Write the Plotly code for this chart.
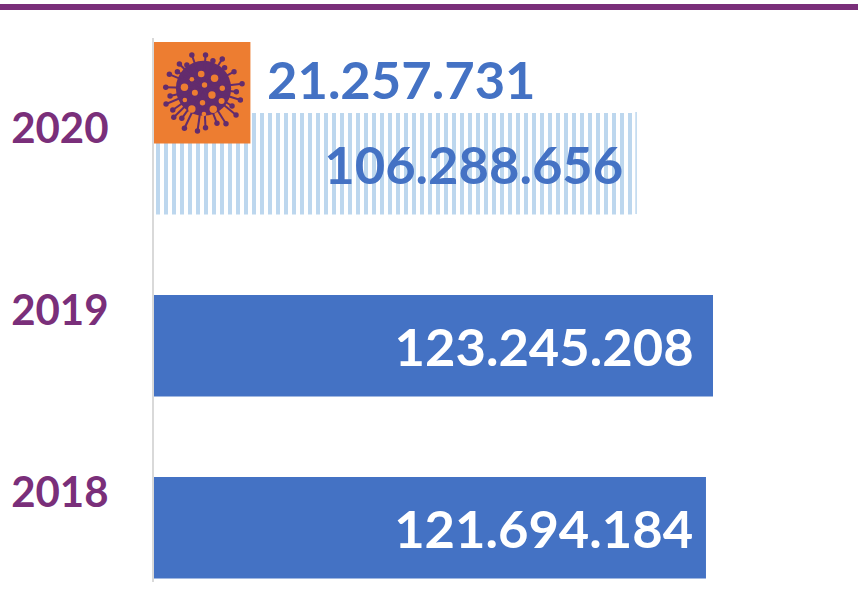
import base64
import plotly.graph_objects as go

categories = ["2018", "2019", "2020"]
values_total = [121694184, 123245208, 106288656]
values_covid = [None, None, 21257731]
label_pad = ["\u2009\u200a", "\u2009\u2009\u200a", "\u2009\u200a"]


def fmt(v):
    return f"{v:,}".replace(",", ".")


# Decorative virus icon, drawn in its own 96x102 picture
holes = [(183,132,10),(155,148,7),(223,145,11),(193,165,8),(133,172,11),(246,175,8),(164,188,9),
         (215,195,11),(134,210,7),(244,213,9),(187,218,8),(155,237,11),(219,238,11),(191,252,7)]
spikes = [(155,75),(196,75),(246,87),(281,125),(305,161),(300,210),(287,255),(257,281),(196,293),
          (172,303),(133,295),(101,262),(78,222),(77,172),(88,133),(118,102),(218,92),(253,113),
          (288,185),(275,228),(230,280),(140,105),(112,125),(90,198),(98,240),(125,265)]
VIRUS = "#632C6D"
def px(z): return z / 3 - 14
def py(z): return z / 3 - 11
parts = [f'<svg xmlns="http://www.w3.org/2000/svg" width="96" height="102" viewBox="0 0 96 102">',
         f'<circle cx="{px(190):.1f}" cy="{py(175):.1f}" r="27.5" fill="{VIRUS}"/>']
for sx, sy in spikes:
    parts.append(f'<line x1="{px(190):.1f}" y1="{py(175):.1f}" x2="{px(sx):.1f}" y2="{py(sy):.1f}" stroke="{VIRUS}" stroke-width="2"/>')
    parts.append(f'<circle cx="{px(sx):.1f}" cy="{py(sy):.1f}" r="2.7" fill="{VIRUS}"/>')
for hx, hy, r in holes:
    parts.append(f'<circle cx="{px(hx):.1f}" cy="{py(hy):.1f}" r="{r/3:.1f}" fill="#ED7D31"/>')
parts.append("</svg>")
icon = "data:image/svg+xml;base64," + base64.b64encode("".join(parts).encode()).decode()

BLUE = "#4472C4"
PURPLE = "#7A2F7A"
FONT = "Lato"
W, H = 858, 609
L, T, PB = 154, 38, 582
PH = PB - T
BW = 101.5 / 182

fig = go.Figure()
fig.add_trace(go.Bar(
    y=categories, x=values_total, orientation="h", width=BW, offset=-0.475,
    marker=dict(
        color=[BLUE, BLUE, "#BDD7EE"],
        line_width=0,
        pattern=dict(shape=["", "", "|"], size=8, solidity=0.5,
                     fgcolor=[BLUE, BLUE, "#BDD7EE"],
                     bgcolor=[BLUE, BLUE, "#FFFFFF"], fillmode="replace"),
    ),
    text=[fmt(v) + p for v, p in zip(values_total, label_pad)],
    textposition="inside", insidetextanchor="end", constraintext="none", textangle=0,
    insidetextfont=dict(family=FONT, size=52.5, color=["#FFFFFF", "#FFFFFF", BLUE], weight="bold"),
    cliponaxis=False,
))
fig.add_trace(go.Bar(
    y=categories, x=values_covid, orientation="h", width=BW, offset=-0.085,
    marker=dict(color="#ED7D31", line_width=0),
    cliponaxis=False,
))

fig.update_layout(
    width=W, height=H, barmode="overlay", showlegend=False,
    margin=dict(l=L, r=0, t=T, b=H - PB, pad=0),
    paper_bgcolor="white", plot_bgcolor="white",
    xaxis=dict(range=[0, (W - L) / 559 * values_total[1]], visible=False),
    yaxis=dict(
        type="category", categoryorder="array", categoryarray=categories,
        range=[-0.494, 2.495], showgrid=False, zeroline=False,
        showline=True, linecolor="#D9D9D9", linewidth=2, ticks="",
        ticklabelstandoff=35,
        tickfont=dict(family=FONT, size=42, color=PURPLE, weight="bold"),
    ),
    annotations=[dict(x=values_covid[2], y=categories.index("2020"), xref="x", yref="y",
                      text=fmt(values_covid[2]),
                      xanchor="left", yanchor="middle", xshift=15, yshift=50, showarrow=False,
                      font=dict(family=FONT, size=52.5, color=BLUE, weight="bold"))],
    shapes=[dict(type="rect", xref="paper", yref="paper", x0=-L / (W - L), x1=1,
                 y0=1 + (T - 10) / PH, y1=1 + (T - 4) / PH,
                 fillcolor=PURPLE, line_width=0),
            dict(type="line", xref="x", yref="paper", x0=values_total[2], x1=values_total[2],
                 y0=(PB - 214) / PH, y1=(PB - 112) / PH,
                 line=dict(color="#BDD7EE", width=1.5))],
    images=[dict(source=icon, xref="x", yref="paper", x=0, sizex=values_covid[2],
                 y=(PB - 41) / PH, sizey=102 / PH, sizing="stretch",
                 xanchor="left", yanchor="top", layer="above")],
)
fig.write_html("out.html", config={"displayModeBar": False},
               post_script="document.body.style.margin='0';document.documentElement.style.margin='0';")
